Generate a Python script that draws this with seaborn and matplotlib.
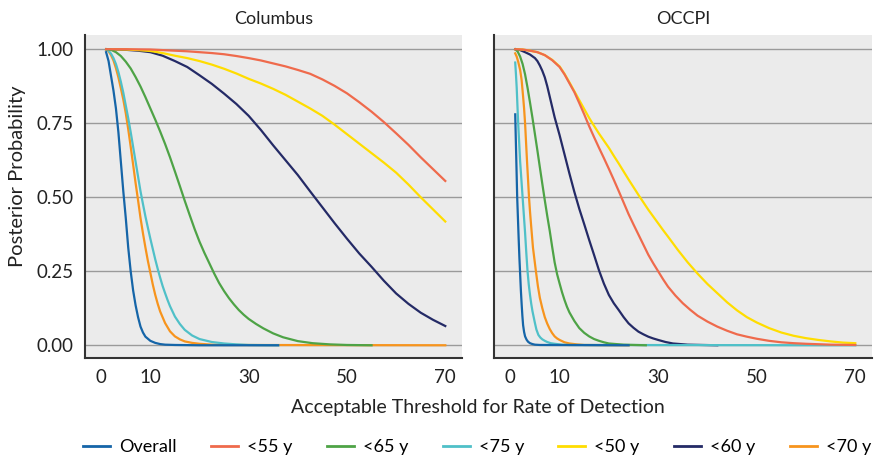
import pandas as pd
import seaborn as sns
import matplotlib
matplotlib.use("Agg")
import matplotlib.pyplot as plt
from matplotlib.lines import Line2D

# Series values (threshold, posterior probability)
groups = ["Overall", "<55 y", "<65 y", "<75 y", "<50 y", "<60 y", "<70 y"]
colors = ["#1565a8", "#ef6a4c", "#4ea346", "#4fc0c8", "#ffdd00", "#242a66", "#f7941d"]
regions = ["Columbus", "OCCPI"]

# Columbus
col_overall_x = [1, 1.5, 2, 2.5, 3, 3.5, 4, 4.5, 5, 5.5, 6, 6.5, 7, 7.5, 8, 8.5, 9, 10, 11, 12, 13, 15, 20, 36]
col_overall_y = [0.99, 0.96, 0.91, 0.86, 0.80, 0.72, 0.62, 0.52, 0.43, 0.33, 0.25, 0.185, 0.135, 0.095,
                 0.063, 0.043, 0.029, 0.015, 0.008, 0.004, 0.002, 0.001, 0, 0]
col_lt55_x = [1, 5, 10, 15, 17.5, 20, 22.5, 25, 27.5, 30, 32.5, 35, 37.5, 40, 42.5, 45, 47.5, 50, 52.5,
              55, 57.5, 60, 62.5, 65, 67.5, 70]
col_lt55_y = [1.0, 1.0, 0.999, 0.995, 0.993, 0.99, 0.987, 0.983, 0.977, 0.97, 0.962, 0.952, 0.942, 0.93,
              0.917, 0.898, 0.876, 0.851, 0.821, 0.789, 0.754, 0.716, 0.677, 0.635, 0.595, 0.555]
col_lt65_x = [1, 1.5, 2, 3, 4, 5, 6, 7, 8, 9, 10, 11, 12, 13, 14, 15, 16, 17, 18, 19, 20, 21, 22, 23, 24,
              25, 26, 27, 28, 29, 30, 31.5, 33, 35, 37, 40, 43, 46.5, 50, 55]
col_lt65_y = [1.0, 0.999, 0.998, 0.99, 0.977, 0.958, 0.935, 0.906, 0.874, 0.838, 0.80, 0.762, 0.722, 0.68,
              0.635, 0.587, 0.538, 0.488, 0.44, 0.393, 0.35, 0.312, 0.277, 0.242, 0.21, 0.183, 0.159,
              0.138, 0.119, 0.103, 0.089, 0.072, 0.057, 0.04, 0.027, 0.014, 0.007, 0.003, 0.001, 0]
col_lt75_x = [1, 1.5, 2, 2.5, 3, 3.5, 4, 4.5, 5, 5.5, 6, 6.5, 7, 7.5, 8, 8.5, 9, 9.5, 10, 10.5, 11, 11.5,
              12, 12.5, 13, 13.5, 14, 15, 16, 17, 18.5, 20, 22.5, 25, 27.5, 30, 36]
col_lt75_y = [1.0, 0.995, 0.985, 0.97, 0.95, 0.923, 0.89, 0.853, 0.81, 0.767, 0.72, 0.67, 0.62, 0.57, 0.52,
              0.477, 0.435, 0.397, 0.36, 0.325, 0.29, 0.258, 0.228, 0.2, 0.176, 0.153, 0.132, 0.097,
              0.072, 0.052, 0.033, 0.021, 0.011, 0.006, 0.003, 0.001, 0]
col_lt50_x = [1, 5, 7.5, 10, 12.5, 15, 17.5, 20, 22.5, 25, 27.5, 30, 32.5, 35, 37.5, 40, 42.5, 45, 47.5,
              50, 52.5, 55, 57.5, 60, 62.5, 65, 67.5, 70]
col_lt50_y = [1.0, 0.999, 0.997, 0.994, 0.987, 0.978, 0.97, 0.96, 0.948, 0.934, 0.918, 0.90, 0.884, 0.866,
              0.846, 0.823, 0.80, 0.775, 0.745, 0.713, 0.681, 0.649, 0.617, 0.583, 0.543, 0.50, 0.459, 0.418]
col_lt60_x = [1, 5, 7.5, 10, 12.5, 15, 17.5, 20, 22.5, 25, 27.5, 30, 32.5, 35, 37.5, 40, 42.5, 45, 47.5,
              50, 52.5, 55, 57.5, 60, 62.5, 65, 67.5, 70]
col_lt60_y = [1.0, 0.998, 0.995, 0.99, 0.978, 0.96, 0.94, 0.912, 0.883, 0.85, 0.815, 0.775, 0.727, 0.675,
              0.625, 0.575, 0.52, 0.466, 0.412, 0.36, 0.31, 0.265, 0.218, 0.175, 0.14, 0.11, 0.086, 0.065]
col_lt70_x = [1, 1.5, 2, 2.5, 3, 3.5, 4, 4.5, 5, 5.5, 6, 6.5, 7, 7.5, 8, 8.5, 9, 9.5, 10, 10.5, 11, 11.5,
              12, 13, 14, 15, 16, 17, 18.5, 20, 22.5, 25, 70]
col_lt70_y = [1.0, 0.993, 0.98, 0.962, 0.936, 0.905, 0.868, 0.83, 0.784, 0.73, 0.671, 0.61, 0.548, 0.49,
              0.43, 0.378, 0.33, 0.285, 0.245, 0.205, 0.17, 0.14, 0.114, 0.075, 0.047, 0.03, 0.02, 0.013,
              0.008, 0.005, 0.002, 0.001, 0]

# OCCPI
occ_overall_x = [1, 1.1, 1.2, 1.3, 1.4, 1.55, 1.7, 1.85, 2, 2.15, 2.3, 2.45, 2.6, 2.8, 3, 3.3, 3.6, 4, 4.5,
                 5, 6, 24]
occ_overall_y = [0.78, 0.71, 0.64, 0.57, 0.5, 0.43, 0.36, 0.295, 0.24, 0.185, 0.14, 0.1, 0.068, 0.045,
                 0.03, 0.019, 0.012, 0.007, 0.004, 0.002, 0.001, 0]
occ_lt55_x = [1, 2.5, 4, 5.5, 7, 8.5, 10, 11, 12, 13, 14, 15, 16, 17, 18, 19, 20, 21, 22, 23, 24, 25, 26,
              27, 28, 29, 30, 31, 32, 33.5, 35, 36.5, 38, 40, 42, 44, 46, 48, 50, 52.5, 55, 57.5, 60, 65, 70]
occ_lt55_y = [1.0, 0.999, 0.995, 0.99, 0.98, 0.963, 0.94, 0.915, 0.885, 0.855, 0.818, 0.78, 0.74, 0.703,
              0.667, 0.632, 0.596, 0.559, 0.521, 0.482, 0.443, 0.408, 0.374, 0.34, 0.306, 0.277, 0.25,
              0.223, 0.198, 0.168, 0.142, 0.12, 0.1, 0.08, 0.063, 0.049, 0.037, 0.029, 0.022, 0.015, 0.01,
              0.007, 0.005, 0.002, 0.001]
occ_lt65_x = [1, 1.5, 2, 2.5, 3, 3.5, 4, 4.5, 5, 5.5, 6, 6.5, 7, 7.5, 8, 8.5, 9, 9.5, 10, 10.5, 11, 11.5,
              12, 13, 14, 15, 16, 17, 18, 19, 20, 21.5, 23, 27.5]
occ_lt65_y = [1.0, 0.992, 0.975, 0.95, 0.915, 0.87, 0.82, 0.768, 0.713, 0.658, 0.601, 0.545, 0.49, 0.437,
              0.387, 0.332, 0.28, 0.24, 0.209, 0.179, 0.153, 0.13, 0.111, 0.082, 0.058, 0.042, 0.03, 0.021,
              0.015, 0.01, 0.006, 0.004, 0.002, 0]
occ_lt75_x = [1, 1.15, 1.3, 1.45, 1.6, 1.8, 2, 2.25, 2.5, 2.75, 3, 3.25, 3.5, 3.75, 4, 4.25, 4.5, 5, 5.3,
              5.7, 6.1, 6.5, 7, 7.5, 8.2, 9, 10.5, 12, 70]
occ_lt75_y = [0.955, 0.915, 0.87, 0.81, 0.75, 0.685, 0.62, 0.56, 0.5, 0.44, 0.38, 0.312, 0.25, 0.205, 0.17,
              0.14, 0.115, 0.075, 0.053, 0.035, 0.026, 0.02, 0.015, 0.011, 0.007, 0.005, 0.002, 0.001, 0]
occ_lt50_x = [1, 2.5, 4, 5.5, 7, 8.5, 10, 11, 12, 13, 14, 15, 16, 17, 18, 19, 20, 21, 22, 23, 24, 25, 26,
              27, 28, 29, 30, 31, 32, 34, 36, 38, 40, 42, 44, 46, 48, 50, 52.5, 55, 57.5, 60, 62.5, 65,
              67.5, 70]
occ_lt50_y = [1.0, 0.999, 0.995, 0.99, 0.98, 0.964, 0.942, 0.917, 0.888, 0.858, 0.828, 0.798, 0.768, 0.741,
              0.715, 0.691, 0.667, 0.64, 0.614, 0.587, 0.56, 0.534, 0.508, 0.483, 0.458, 0.435, 0.412,
              0.389, 0.367, 0.322, 0.28, 0.242, 0.207, 0.176, 0.145, 0.118, 0.095, 0.077, 0.058, 0.043,
              0.032, 0.024, 0.018, 0.013, 0.009, 0.007]
occ_lt60_x = [1, 2, 3, 4, 5, 5.5, 6, 6.5, 7, 7.5, 8, 8.5, 9, 9.5, 10, 11, 12, 13, 14, 15, 16, 17, 18, 19,
              20, 21, 22, 23, 24, 25, 26, 27, 28, 29, 30, 31.5, 33, 34.5, 36, 39, 42]
occ_lt60_y = [1.0, 0.997, 0.99, 0.982, 0.97, 0.96, 0.945, 0.927, 0.905, 0.875, 0.84, 0.805, 0.77, 0.74,
              0.71, 0.645, 0.58, 0.518, 0.461, 0.409, 0.356, 0.305, 0.253, 0.208, 0.17, 0.142, 0.119,
              0.095, 0.074, 0.059, 0.046, 0.037, 0.029, 0.023, 0.018, 0.011, 0.006, 0.004, 0.002, 0.001, 0]
occ_lt70_x = [1, 1.3, 1.6, 2, 2.3, 2.6, 2.8, 3, 3.2, 3.4, 3.6, 3.8, 4, 4.2, 4.4, 4.6, 4.9, 5.2, 5.6, 6,
              6.5, 7, 7.5, 8, 8.5, 9, 9.5, 10, 11, 12, 13.5, 15, 24]
occ_lt70_y = [0.986, 0.975, 0.958, 0.93, 0.896, 0.84, 0.80, 0.75, 0.685, 0.62, 0.56, 0.5, 0.452, 0.41,
              0.37, 0.33, 0.29, 0.25, 0.2, 0.16, 0.125, 0.095, 0.073, 0.055, 0.041, 0.03, 0.023, 0.018,
              0.01, 0.006, 0.003, 0.001, 0]

x_ticks = [0, 10, 30, 50, 70]
y_ticks = [0.0, 0.25, 0.5, 0.75, 1.0]

series = {
    "Columbus": [(col_overall_x, col_overall_y), (col_lt55_x, col_lt55_y), (col_lt65_x, col_lt65_y),
                 (col_lt75_x, col_lt75_y), (col_lt50_x, col_lt50_y), (col_lt60_x, col_lt60_y),
                 (col_lt70_x, col_lt70_y)],
    "OCCPI": [(occ_overall_x, occ_overall_y), (occ_lt55_x, occ_lt55_y), (occ_lt65_x, occ_lt65_y),
              (occ_lt75_x, occ_lt75_y), (occ_lt50_x, occ_lt50_y), (occ_lt60_x, occ_lt60_y),
              (occ_lt70_x, occ_lt70_y)],
}

rows = []
for region in regions:
    for grp, (xs, ys) in zip(groups, series[region]):
        for xv, yv in zip(xs, ys):
            rows.append({"region": region, "group": grp, "threshold": xv, "prob": yv})
df = pd.DataFrame(rows)

palette = dict(zip(groups, colors))
draw_order = groups[::-1]  # Overall drawn last, on top

plt.rcParams["font.family"] = ["Lato", "DejaVu Sans"]

fig = plt.figure(figsize=(8.75, 4.63), dpi=100)
ax1 = fig.add_axes([0.0971, 0.2268, 0.4309, 0.6976])
ax2 = fig.add_axes([0.5646, 0.2268, 0.432, 0.6976], sharey=ax1)

for ax, region in zip([ax1, ax2], regions):
    sub = df[df["region"] == region]
    sns.lineplot(data=sub, x="threshold", y="prob", hue="group", hue_order=draw_order,
                 palette=palette, linewidth=1.6, estimator=None, sort=False, legend=False, ax=ax)
    ax.set_facecolor("#ebebeb")
    ax.set_xlim(-3.3, 73.4)
    ax.set_ylim(-0.043, 1.048)
    ax.set_xticks(x_ticks)
    ax.set_yticks(y_ticks)
    ax.set_yticklabels([f"{t:.2f}" for t in y_ticks])
    ax.yaxis.grid(True, color="#9a9a9a", linewidth=1.0)
    ax.xaxis.grid(False)
    ax.set_axisbelow(True)
    for s in ["top", "right"]:
        ax.spines[s].set_visible(False)
    for s in ["left", "bottom"]:
        ax.spines[s].set_color("#333333")
        ax.spines[s].set_linewidth(1.5)
    ax.tick_params(length=0, labelsize=13.5, pad=8, colors="#222222")
    ax.tick_params(axis="y", pad=8)
    ax.set_title(region, fontsize=13, pad=8, color="#222222")
    ax.set_xlabel("")
    ax.set_ylabel("")

ax2.tick_params(labelleft=False)

fig.text(18 / 875, 1 - 176 / 463, "Posterior Probability", rotation=90, ha="center", va="center",
         fontsize=14.5, color="#222222")
fig.text(478 / 875, 1 - 407 / 463, "Acceptable Threshold for Rate of Detection", ha="center",
         va="center", fontsize=14, color="#222222")

handles = [Line2D([0], [0], color=c, linewidth=2) for c in colors]
fig.legend(handles, groups, loc="center", bbox_to_anchor=(477 / 875, 1 - 447 / 463), ncol=7,
           frameon=False, fontsize=13, handlelength=1.5, columnspacing=1.9, handletextpad=0.5)

fig.savefig("out.png", dpi=100)
